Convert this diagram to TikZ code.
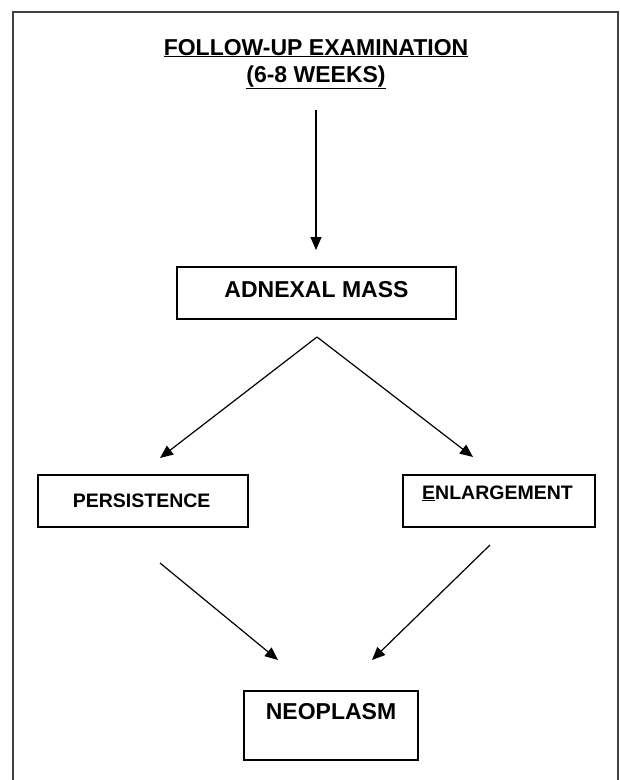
\documentclass[tikz,border=0pt]{standalone}
\usepackage{fontspec}
\setmainfont{Liberation Sans}
\usetikzlibrary{arrows.meta}
\begin{document}
\begin{tikzpicture}[x=1pt,y=-1pt,
  frame/.style={line width=1.4pt,draw=black!75},
  boxstyle/.style={draw,line width=1.3pt},
  lbl/.style={font=\fontsize{23}{27}\selectfont\bfseries,anchor=base},
  slbl/.style={font=\fontsize{19.5}{23}\selectfont\bfseries,anchor=base},
  conn/.style={line width=1.2pt},
  arr/.style={conn,-{Triangle[length=13pt,width=11pt]}}]
\useasboundingbox (0,0) rectangle (620,780);
\draw[frame] (13,782) -- (13,12) -- (618,12) -- (618,782);
% title
\node[lbl] (t1) at (316,55) {\underline{FOLLOW-UP EXAMINATION}};
\node[lbl] (t2) at (316,82) {\underline{(6-8 WEEKS)}};
\coordinate (a0) at (316,110);
\coordinate (a1) at (316,250);
\draw[arr] (a0) -- (a1);
% adnexal mass
\draw[boxstyle] (177,267) rectangle (456,319);
\node[lbl] (am) at (316.5,297) {ADNEXAL MASS};
\coordinate (apex) at (317,337);
\coordinate (tl) at (160,458);
\coordinate (tr) at (473,457);
\draw[arr] (apex) -- (tl);
\draw[arr] (apex) -- (tr);
% persistence
\draw[boxstyle] (38,475) rectangle (248,527);
\node[slbl,anchor=base east] (pe) at (214,507) {PERSISTENCE};
% enlargement
\draw[boxstyle] (403,475) rectangle (595,527);
\node[slbl] (en) at (497.5,499) {\underline{E}NLARGEMENT};
% neoplasm
\coordinate (ls) at (160,563);
\coordinate (le) at (278,660);
\coordinate (rs) at (490,545);
\coordinate (re) at (372,660);
\draw[arr] (ls) -- (le);
\draw[arr] (rs) -- (re);
\draw[boxstyle] (244,691) rectangle (418,760);
\node[lbl] (ne) at (331,719) {NEOPLASM};
\end{tikzpicture}
\end{document}
